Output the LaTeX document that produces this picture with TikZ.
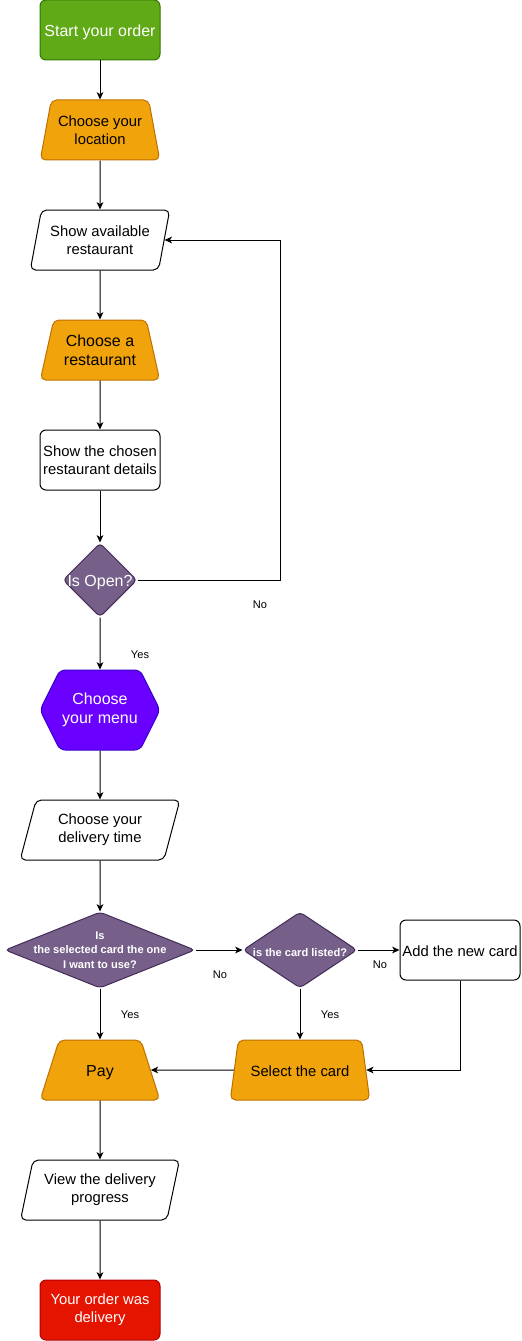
\documentclass[tikz,border=0pt]{standalone}
\usepackage{fontspec}
\setmainfont{Liberation Sans}
\usetikzlibrary{shapes.geometric,shapes.symbols,arrows.meta}
\definecolor{startgreen}{HTML}{60A917}
\definecolor{startline}{HTML}{2D7600}
\definecolor{pickorange}{HTML}{F0A30A}
\definecolor{pickline}{HTML}{BD7000}
\definecolor{askpurple}{HTML}{76608A}
\definecolor{askline}{HTML}{432D57}
\definecolor{menuviolet}{HTML}{6A00FF}
\definecolor{menuline}{HTML}{3700CC}
\definecolor{endred}{HTML}{E51400}
\definecolor{endline}{HTML}{B20000}
\begin{document}
\begin{tikzpicture}[x=30pt,y=30pt,line width=0.75pt,
  every node/.style={inner sep=0pt,align=center},
  txt/.style={font=\fontsize{11.1}{13.3}\selectfont},
  bigtxt/.style={font=\fontsize{12}{14.5}\selectfont},
  asktxt/.style={font=\fontsize{8.3}{10.75}\selectfont\bfseries,text=white},
  lbl/.style={font=\fontsize{8.3}{10}\selectfont},
  low/.style={text height=12pt,text depth=2.5pt},
  box/.style={draw,rounded corners=4.5pt,minimum width=90pt,minimum height=45pt},
  pick/.style={trapezium,trapezium angle=71.6,trapezium stretches=true,draw=pickline,fill=pickorange,rounded corners=4pt,minimum height=45pt},
  para/.style={trapezium,trapezium left angle=71.6,trapezium right angle=108.4,trapezium stretches=true,draw,rounded corners=4pt,minimum height=45pt},
  ask/.style={diamond,draw=askline,fill=askpurple,rounded corners=3pt},
  flow/.style={-{Stealth[length=5.5pt,width=5pt,inset=1.5pt]}}]

\useasboundingbox (0,0) rectangle (13.025,-33.525);

\node (start) at (2.5,-0.75) [box,fill=startgreen,draw=startline,text=white,bigtxt,low] {Start your order};
\node (loc) at (2.5,-3.25) [pick,minimum width=90pt,txt] {Choose your\\location};
\node (show) at (2.5,-6) [para,minimum width=105pt,txt] {Show available\\restaurant};
\node (rest) at (2.5,-8.75) [pick,minimum width=90pt,bigtxt] {Choose a\\restaurant};
\node (details) at (2.5,-11.5) [box,txt] {Show the chosen\\restaurant details};
\node (isopen) at (2.5,-14.5) [ask,minimum width=55.5pt,minimum height=55.5pt,label={[bigtxt,low,text=white]center:Is Open?}] {};
\node (menu) at (2.5,-17.75) [signal,signal to=west and east,signal pointer angle=127,draw=menuline,fill=menuviolet,rounded corners=4pt,minimum width=90pt,minimum height=60pt,text=white,bigtxt] {Choose\\your menu};
\node (time) at (2.5,-20.75) [para,minimum width=120pt,txt] {Choose your\\delivery time};
\node (samecard) at (2.5,-23.75) [ask,minimum width=142.5pt,minimum height=57pt,label={[asktxt]center:Is\\the selected card the one\\I want to use?}] {};
\node (listed) at (7.5,-23.75) [ask,minimum width=85.5pt,minimum height=57pt,label={[asktxt,low]center:is the card listed?}] {};
\node (addcard) at (11.5,-23.75) [box,txt,low] {Add the new card};
\node (pay) at (2.5,-26.75) [pick,minimum width=90pt,bigtxt,low] {Pay};
\node (select) at (7.5,-26.75) [pick,minimum width=105pt,txt,low] {Select the card};
\node (progress) at (2.5,-29.75) [para,minimum width=120pt,txt] {View the delivery\\progress};
\node (done) at (2.5,-32.75) [box,fill=endred,draw=endline,text=white,txt] {Your order was\\delivery};

\draw [flow] (start) -- (loc);
\draw [flow] (loc) -- (show);
\draw [flow] (show) -- (rest);
\draw [flow] (rest) -- (details);
\draw [flow] (details) -- (isopen);
\draw [flow] (isopen.east) -- (7,-14.5) |- (show.east);
\draw [flow] (isopen) -- (menu);
\draw [flow] (menu) -- (time);
\draw [flow] (time) -- (samecard);
\draw [flow] (samecard) -- (listed);
\draw [flow] (listed) -- (addcard);
\draw [flow] (samecard) -- (pay);
\draw [flow] (listed) -- (select);
\draw [flow] (addcard) |- (select);
\draw [flow] (select) -- (pay);
\draw [flow] (pay) -- (progress);
\draw [flow] (progress) -- (done);

\node (noopen) at (6.5,-15.125) [lbl] {No};
\node (yesopen) at (3.5,-16.375) [lbl] {Yes};
\node (nosame) at (5.5,-24.375) [lbl] {No};
\node (nolisted) at (9.5,-24.125) [lbl] {No};
\node (yessame) at (3.25,-25.375) [lbl] {Yes};
\node (yeslisted) at (8.25,-25.375) [lbl] {Yes};

\end{tikzpicture}
\end{document}
